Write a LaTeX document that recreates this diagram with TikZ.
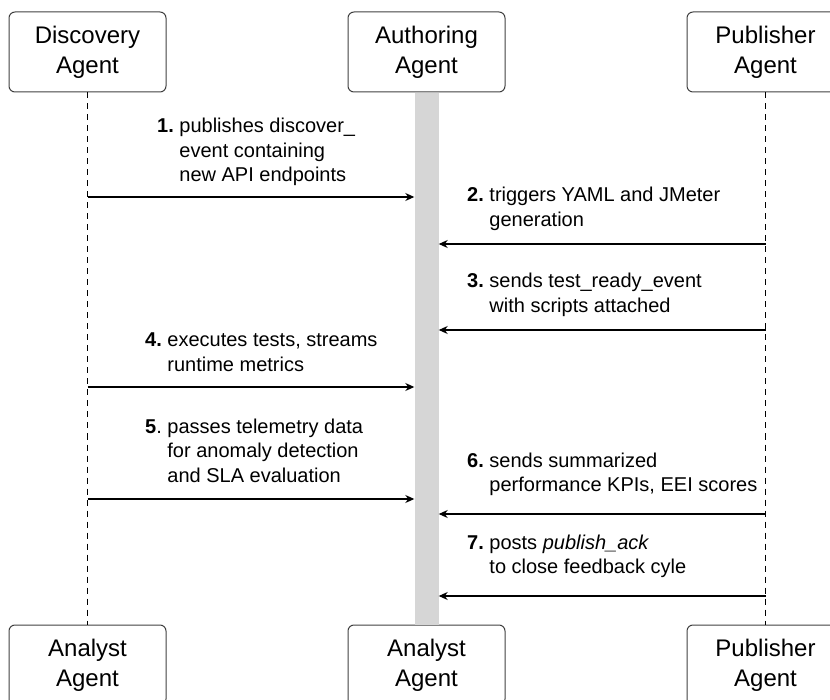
\documentclass[tikz,border=0pt]{standalone}
\usepackage{fontspec}
\setmainfont{Liberation Sans}
\usetikzlibrary{positioning, arrows.meta, calc}

\begin{document}
\begin{tikzpicture}[
    x=1pt, y=-1pt,
    >={Stealth[length=9pt, width=8pt]},
    node distance=181pt and 181pt,
    agent/.style={
        rectangle,
        draw=black!75,
        line width=1pt,
        rounded corners=6pt,
        minimum width=157pt,
        minimum height=80pt,
        align=center,
        font=\fontsize{24}{30}\selectfont
    },
    lifeline/.style={
        line width=1pt,
        dash pattern=on 6pt off 5pt
    },
    actbar/.style={
        rectangle,
        fill=black!16,
        inner sep=0pt,
        minimum width=24pt,
        minimum height=532pt
    },
    msg/.style={
        ->,
        line width=1.1pt
    },
    msglabel/.style={
        anchor=base west,
        inner sep=0pt,
        font=\fontsize{20}{24.5}\selectfont
    }
]

    \clip (0,0) rectangle (830,700);

    % Agents (top)
    \node[agent] (disc) at (87.5,52) {Discovery\\Agent};
    \node[agent, right=181pt of disc] (auth) {Authoring\\Agent};
    \node[agent, right=181pt of auth] (pub) {Publisher\\Agent};

    % Agents (bottom)
    \node[agent, below=532pt of disc] (ana1) {Analyst\\Agent};
    \node[agent, below=532pt of auth] (ana2) {Analyst\\Agent};
    \node[agent, below=532pt of pub] (pub2) {Publisher\\Agent};

    % Lifelines and activation bar
    \draw[lifeline] (disc.south) -- (ana1.north);
    \draw[lifeline] (pub.south) -- (pub2.north);
    \node[actbar, below=0pt of auth] (bar) {};

    % Message rows
    \coordinate (r1) at (0,197);
    \coordinate (r2) at (0,244);
    \coordinate (r3) at (0,330);
    \coordinate (r4) at (0,387);
    \coordinate (r5) at (0,499);
    \coordinate (r6) at (0,514);
    \coordinate (r7) at (0,596);

    \draw[msg] (disc |- r1) -- (bar.west |- r1);
    \draw[msg] (pub |- r2) -- (bar.east |- r2);
    \draw[msg] (pub |- r3) -- (bar.east |- r3);
    \draw[msg] (disc |- r4) -- (bar.west |- r4);
    \draw[msg] (disc |- r5) -- (bar.west |- r5);
    \draw[msg] (pub |- r6) -- (bar.east |- r6);
    \draw[msg] (pub |- r7) -- (bar.east |- r7);

    % Labels
    \node[msglabel] (l1) at (157,133) {\begin{tabular}[t]{@{}l@{~}l@{}}
        \textbf{1.} & publishes discover\_\\ & event containing\\ & new API endpoints\end{tabular}};
    \node[msglabel] (l2) at (467,202) {\begin{tabular}[t]{@{}l@{~}l@{}}
        \textbf{2.} & triggers YAML and JMeter\\ & generation\end{tabular}};
    \node[msglabel] (l3) at (467,288) {\begin{tabular}[t]{@{}l@{~}l@{}}
        \textbf{3.} & sends test\_ready\_event\\ & with scripts attached\end{tabular}};
    \node[msglabel] (l4) at (145,347) {\begin{tabular}[t]{@{}l@{~}l@{}}
        \textbf{4.} & executes tests, streams\\ & runtime metrics\end{tabular}};
    \node[msglabel] (l5) at (145,433) {\begin{tabular}[t]{@{}l@{~}l@{}}
        \textbf{5}. & passes telemetry data\\ & for anomaly detection\\ & and SLA evaluation\end{tabular}};
    \node[msglabel] (l6) at (467,467) {\begin{tabular}[t]{@{}l@{~}l@{}}
        \textbf{6.} & sends summarized\\ & performance KPIs, EEI scores\end{tabular}};
    \node[msglabel] (l7) at (467,549) {\begin{tabular}[t]{@{}l@{~}l@{}}
        \textbf{7.} & posts \textit{publish\_ack}\\ & to close feedback cyle\end{tabular}};

\end{tikzpicture}
\end{document}
